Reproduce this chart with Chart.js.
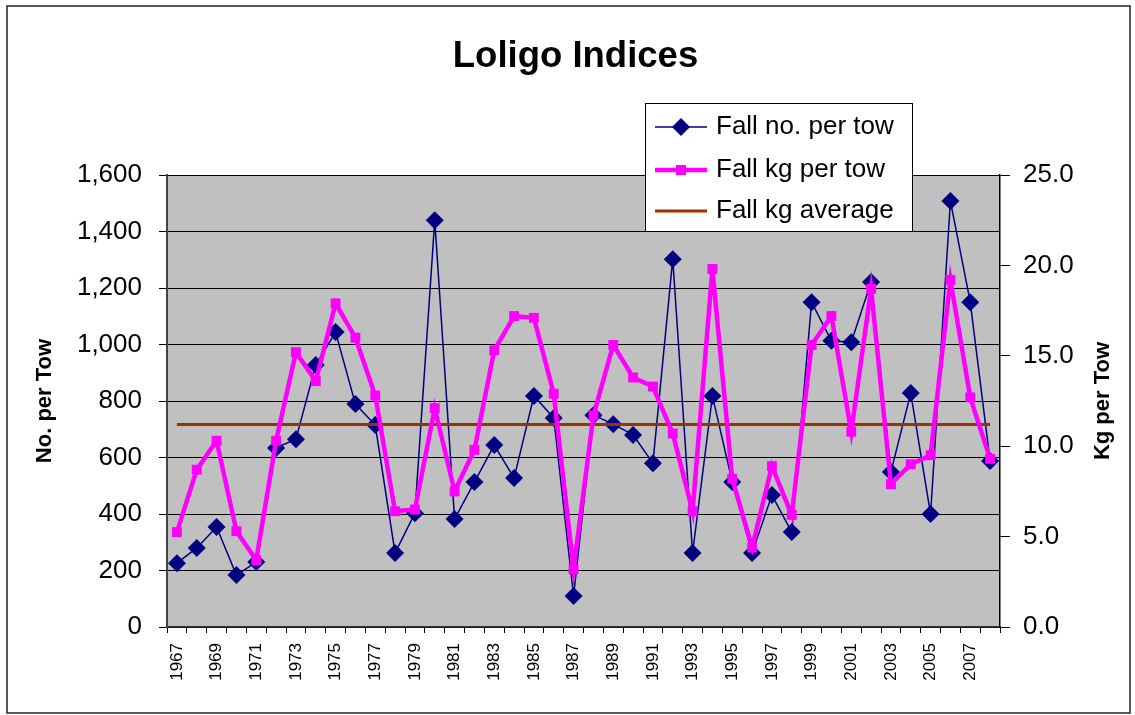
<!DOCTYPE html>
<html>
<head>
<meta charset="utf-8">
<script src="https://cdn.jsdelivr.net/npm/chart.js@4.4.0/dist/chart.umd.min.js"></script>
<style>
  body { margin: 0; background: #fff; }
  #wrap { width: 1135px; height: 715px; }
</style>
</head>
<body>
<div id="wrap"><canvas id="loligo" width="1135" height="715"></canvas></div>
<script>
let years = [1967,1968,1969,1970,1971,1972,1973,1974,1975,1976,1977,1978,1979,1980,
             1981,1982,1983,1984,1985,1986,1987,1988,1989,1990,1991,1992,1993,1994,
             1995,1996,1997,1998,1999,2000,2001,2002,2003,2004,2005,2006,2007,2008]
let noPerTow = [226,280,354,184,230,634,665,927,1044,789,715,262,403,1440,
                382,513,644,527,818,740,110,750,718,680,580,1302,262,818,
                513,262,467,336,1150,1013,1008,1221,549,828,400,1508,1150,588]
let kgPerTow = [5.25,8.7,10.3,5.3,3.7,10.3,15.2,13.6,17.9,16.0,12.8,6.4,6.5,12.1,
                7.5,9.8,15.3,17.2,17.1,12.9,3.2,11.7,15.6,13.8,13.3,10.7,6.4,19.8,
                8.2,4.4,8.9,6.2,15.6,17.2,10.8,18.7,7.9,9.0,9.5,19.2,12.7,9.3]
let kgAverage = 11.2
let leftTicks = [0,1600,200]
let rightTicks = [0,25,5]

const FONT = "'Liberation Sans', Arial, sans-serif";

// grey plot area + outer frame + title + legend + right axis title
const decor = {
    id: 'decor',
    beforeDraw(chart) {
        const c = chart.ctx, a = chart.chartArea;
        c.save();
        c.fillStyle = '#fff';
        c.fillRect(0, 0, chart.width, chart.height);
        c.fillStyle = '#C0C0C0';
        c.fillRect(a.left, a.top, a.right - a.left, a.bottom - a.top);
        c.restore();
    },
    afterDraw(chart) {
        const c = chart.ctx;
        c.save();
        // outer frame
        c.strokeStyle = '#222';
        c.lineWidth = 1.5;
        c.strokeRect(7, 6, 1123, 707);

        // chart title
        c.fillStyle = '#000';
        c.font = 'bold 36.5px ' + FONT;
        c.textAlign = 'center';
        c.textBaseline = 'alphabetic';
        c.fillText('Loligo Indices', 575.5, 67);

        // right axis title
        c.font = 'bold 22px ' + FONT;
        c.textBaseline = 'middle';
        c.translate(1103, (chart.chartArea.top + chart.chartArea.bottom) / 2);
        c.rotate(-Math.PI / 2);
        c.fillText('Kg per Tow', 0, 0);
        c.restore();

        // legend
        c.save();
        c.fillStyle = '#fff';
        c.fillRect(645, 103, 267, 128);
        c.strokeStyle = '#000';
        c.lineWidth = 1;
        c.strokeRect(645.5, 103.5, 267, 128);
        const rows = [
            { y: 127, text: 'Fall no. per tow', color: '#000080', w: 1.5, mark: 'diamond' },
            { y: 170, text: 'Fall kg per tow', color: '#FF00FF', w: 4.5, mark: 'square' },
            { y: 211, text: 'Fall kg average', color: '#993300', w: 3, mark: null }
        ];
        rows.forEach(r => {
            c.strokeStyle = r.color;
            c.lineWidth = r.w;
            c.beginPath();
            c.moveTo(655, r.y);
            c.lineTo(707, r.y);
            c.stroke();
            c.fillStyle = r.color;
            if (r.mark === 'diamond') {
                c.beginPath();
                c.moveTo(681, r.y - 9);
                c.lineTo(690, r.y);
                c.lineTo(681, r.y + 9);
                c.lineTo(672, r.y);
                c.closePath();
                c.fill();
            } else if (r.mark === 'square') {
                c.fillRect(676, r.y - 5, 10, 10);
            }
            c.fillStyle = '#000';
            c.font = '26px ' + FONT;
            c.textAlign = 'left';
            c.textBaseline = 'middle';
            c.fillText(r.text, 716, r.y);
        });
        c.restore();
    }
};

var ctx = document.getElementById('loligo');
var chart = new Chart(ctx, {
    type: 'line',
    data: {
        labels: years,
        datasets: [
            {
                label: 'Fall kg per tow',
                data: kgPerTow,
                yAxisID: 'y1',
                borderColor: '#FF00FF',
                backgroundColor: '#FF00FF',
                borderWidth: 4.5,
                pointStyle: 'rect',
                pointRadius: 7,
                pointBorderWidth: 0,
                fill: false,
                order: 0
            },
            {
                label: 'Fall kg average',
                data: years.map(() => kgAverage),
                yAxisID: 'y1',
                borderColor: '#993300',
                borderWidth: 3,
                pointRadius: 0,
                fill: false,
                order: 1
            },
            {
                label: 'Fall no. per tow',
                data: noPerTow,
                yAxisID: 'y',
                borderColor: '#000080',
                backgroundColor: '#000080',
                borderWidth: 1.5,
                pointStyle: 'rectRot',
                pointRadius: 9,
                pointBorderWidth: 0,
                fill: false,
                order: 2
            }
        ]
    },
    options: {
        responsive: false,
        animation: false,
        layout: { padding: { top: 175, left: 0, right: 0, bottom: 0 } },
        plugins: {
            legend: { display: false },
            tooltip: { enabled: false },
            title: { display: false }
        },
        scales: {
            x: {
                offset: true,
                grid: { display: true, drawOnChartArea: false, offset: true, color: '#000', tickLength: 6 },
                border: { display: true, color: '#333', width: 1.5 },
                ticks: {
                    autoSkip: false,
                    minRotation: 90,
                    maxRotation: 90,
                    padding: 10,
                    color: '#000',
                    font: { family: FONT, size: 17 },
                    callback: (v, i) => i % 2 === 0 ? years[i] : ''
                },
                afterFit: s => { s.height = 88; }
            },
            y: {
                position: 'left',
                min: leftTicks[0],
                max: leftTicks[1],
                grid: { color: '#000', lineWidth: 1, tickLength: 8 },
                border: { display: true, color: '#444', width: 2 },
                ticks: {
                    stepSize: leftTicks[2],
                    padding: 17,
                    color: '#000',
                    font: { family: FONT, size: 26 },
                    callback: v => v.toLocaleString('en-US')
                },
                title: {
                    display: true,
                    text: 'No. per Tow',
                    color: '#000',
                    font: { family: FONT, size: 22, weight: 'bold', lineHeight: 1.2 },
                    padding: { top: 32, bottom: 0 }
                },
                afterFit: s => { s.width = 167; }
            },
            y1: {
                position: 'right',
                min: rightTicks[0],
                max: rightTicks[1],
                grid: { drawOnChartArea: false, color: '#000', tickLength: 10 },
                border: { display: true, color: '#000', width: 1.5 },
                ticks: {
                    stepSize: rightTicks[2],
                    padding: 13,
                    color: '#000',
                    font: { family: FONT, size: 26 },
                    callback: v => v.toFixed(1)
                },
                afterFit: s => { s.width = 135; }
            }
        }
    },
    plugins: [decor]
});
</script>
</body>
</html>
